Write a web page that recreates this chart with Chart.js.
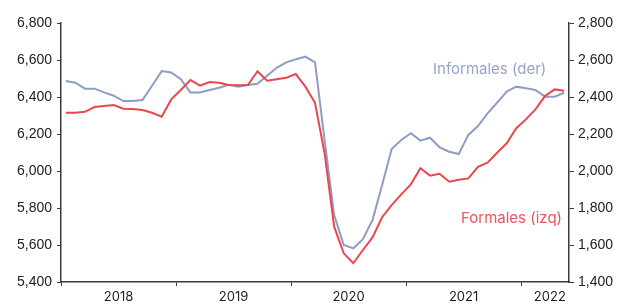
<!DOCTYPE html>
<html><head><meta charset="utf-8">
<script src="https://cdn.jsdelivr.net/npm/chart.js@4/dist/chart.umd.min.js"></script>
<style>
html,body{margin:0;padding:0;background:#fff;}
#wrap{position:relative;width:630px;height:308px;}
.ann{position:absolute;font-family:Inter,"Open Sans",sans-serif;font-size:15px;white-space:nowrap;line-height:1;}
</style></head><body>
<div id="wrap"><canvas id="c" width="630" height="308"></canvas>
<div class="ann" style="left:433px;top:61px;color:#97A3C8">Informales (der)</div>
<div class="ann" style="left:461px;top:210px;color:#E8555A">Formales (izq)</div>
</div>
<script>
const months = [
 "2018-01","2018-02","2018-03","2018-04","2018-05","2018-06","2018-07","2018-08","2018-09","2018-10","2018-11","2018-12",
 "2019-01","2019-02","2019-03","2019-04","2019-05","2019-06","2019-07","2019-08","2019-09","2019-10","2019-11","2019-12",
 "2020-01","2020-02","2020-03","2020-04","2020-05","2020-06","2020-07","2020-08","2020-09","2020-10","2020-11","2020-12",
 "2021-01","2021-02","2021-03","2021-04","2021-05","2021-06","2021-07","2021-08","2021-09","2021-10","2021-11","2021-12",
 "2022-01","2022-02","2022-03","2022-04","2022-05"];
const formales = [6315,6315,6320,6346,6351,6357,6337,6335,6330,6315,6293,6387,
 6438,6492,6461,6481,6477,6465,6463,6465,6539,6488,6496,6504,
 6524,6456,6369,6096,5699,5555,5501,5573,5641,5750,5816,5874,
 5928,6015,5975,5985,5942,5953,5960,6023,6045,6099,6150,6231,
 6279,6333,6405,6441,6434];
const informales = [2486,2477,2445,2445,2425,2407,2378,2378,2384,2461,2540,2533,
 2496,2425,2425,2438,2450,2466,2456,2465,2472,2515,2558,2587,
 2604,2618,2587,2168,1762,1600,1582,1631,1735,1924,2119,2168,
 2204,2164,2180,2128,2104,2092,2195,2243,2312,2369,2429,2456,
 2447,2438,2402,2402,2423];
const yearLabels = ["2018","2019","2020","2021","2022"];
const yearLabelMonths = ["2018-06","2019-06","2020-06","2021-06","2022-03"];
const leftTicks = [5400,5600,5800,6000,6200,6400,6600,6800];
const rightTicks = [1400,1600,1800,2000,2200,2400,2600,2800];

const AX = '#3a3a3a';
const isYearStart = (i) => i !== undefined && i >= 0 && i < months.length && months[i].endsWith('-01');
const fmt = (v) => Number(v).toLocaleString('en-US');

new Chart(document.getElementById('c'), {
  type: 'line',
  data: {
    labels: months,
    datasets: [
      {label:'Formales (izq)', data: formales, yAxisID:'y', borderColor:'#E8484D', borderWidth:2, pointRadius:0, tension:0, fill:false},
      {label:'Informales (der)', data: informales, yAxisID:'y1', borderColor:'#8E9DC6', borderWidth:2, pointRadius:0, tension:0, fill:false}
    ]
  },
  options: {
    responsive:false, animation:false,
    layout:{padding:{top:23,left:0,right:0,bottom:0}},
    plugins:{legend:{display:false}, tooltip:{enabled:false}},
    scales:{
      x:{type:'category', offset:true,
        grid:{offset:true, drawOnChartArea:false, drawTicks:true, tickLength:4,
          color:(ctx)=> isYearStart(ctx.index) ? AX : 'rgba(0,0,0,0)',
          tickColor:(ctx)=> isYearStart(ctx.index) ? AX : 'rgba(0,0,0,0)'},
        border:{display:true, color:AX, width:1.5},
        ticks:{autoSkip:false, maxRotation:0, minRotation:0, padding:3, labelOffset:4.8,
          color:'#222', font:{family:'Inter', size:13},
          callback:(v,i)=>{ const k = yearLabelMonths.indexOf(months[i]); return k>=0 ? yearLabels[k] : ''; }},
        afterFit:(s)=>{ s.height = 26; }
      },
      y:{position:'left', min:5400, max:6800,
        afterBuildTicks:(s)=>{ s.ticks = leftTicks.map(v=>({value:v})); },
        grid:{drawOnChartArea:false, drawTicks:true, tickLength:4, color:AX},
        border:{display:true, color:AX, width:1.5},
        ticks:{padding:5, color:'#222', font:{family:'Liberation Sans', size:14}, callback:(v)=>fmt(v)},
        afterFit:(s)=>{ s.width = 61; }
      },
      y1:{position:'right', min:1400, max:2800,
        afterBuildTicks:(s)=>{ s.ticks = rightTicks.map(v=>({value:v})); },
        grid:{drawOnChartArea:false, drawTicks:true, tickLength:5, color:AX},
        border:{display:true, color:AX, width:1.5},
        ticks:{padding:4, color:'#222', font:{family:'Liberation Sans', size:14}, callback:(v)=>fmt(v)},
        afterFit:(s)=>{ s.width = 61; }
      }
    }
  }
});
</script>
</body></html>
